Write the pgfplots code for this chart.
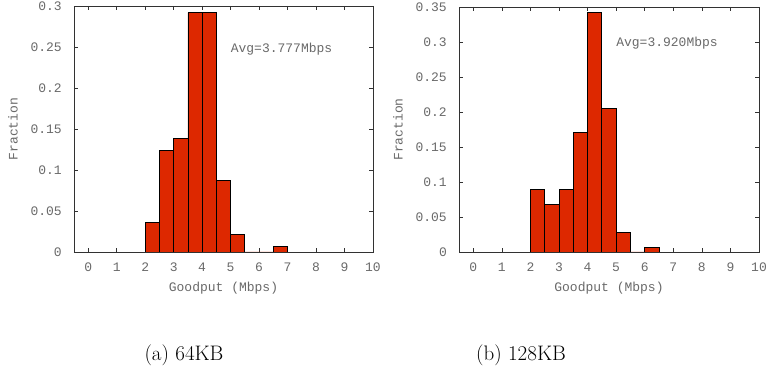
\documentclass[border=0pt]{standalone}
\usepackage{fontspec}
\setmonofont{Liberation Mono}
\usepackage{pgfplots}
\pgfplotsset{compat=1.18}
\definecolor{barred}{RGB}{221,40,0}
\definecolor{txtgray}{RGB}{105,105,105}
\definecolor{axgray}{RGB}{50,50,50}
\newcommand{\gpfont}{\ttfamily\fontsize{13}{15}\selectfont}
\pgfplotsset{gp/.style={
  scale only axis, anchor=south west,
  xmin=-0.5, xmax=10, ymin=0,
  xtick={0,1,2,3,4,5,6,7,8,9,10},
  xticklabels={0,1,2,3,4,5,6,7,8,9,10},
  tick align=inside, major tick length=4pt,
  tick style={axgray, line width=0.6pt},
  axis line style={axgray, line width=0.8pt},
  ticklabel style={font=\gpfont, text=txtgray},
  xticklabel style={anchor=center, yshift=-15pt, inner sep=0pt},
  yticklabel style={anchor=east, xshift=-12pt, inner sep=0pt},
  every axis x label/.style={at={(axis description cs:0.5,0)}, yshift=-36pt, anchor=center, font=\gpfont, text=txtgray},
  every axis y label/.style={at={(axis description cs:0,0.5)}, xshift=-61pt, rotate=90, anchor=center, font=\gpfont, text=txtgray},
  xlabel={Goodput (Mbps)}, ylabel={Fraction},
}}
\begin{document}
\begin{tikzpicture}
\path[use as bounding box] (0,0) rectangle (769pt,379pt);
\begin{axis}[gp, at={(74pt,127pt)}, width=299pt, height=246pt,
  ymax=0.3, ytick={0,0.05,0.1,0.15,0.2,0.25,0.3},
  yticklabels={0,0.05,0.1,0.15,0.2,0.25,0.3}]
\addplot[ybar interval, fill=barred, draw=black, line width=0.8pt] coordinates {
 (2,0.0365) (2.5,0.1241) (3,0.1387) (3.5,0.2920) (4,0.2920) (4.5,0.0876)
 (5,0.0219) (5.5,0) (6,0) (6.5,0.0073) (7,0)};
\node[anchor=west, font=\gpfont, text=txtgray, inner sep=0pt] at (axis cs:5.0,0.2476) {Avg=3.777Mbps};
\end{axis}
\begin{axis}[gp, at={(459pt,127pt)}, width=300pt, height=245pt,
  ymax=0.35, ytick={0,0.05,0.1,0.15,0.2,0.25,0.3,0.35},
  yticklabels={0,0.05,0.1,0.15,0.2,0.25,0.3,0.35}]
\addplot[ybar interval, fill=barred, draw=black, line width=0.8pt] coordinates {
 (2,0.0890) (2.5,0.0685) (3,0.0890) (3.5,0.1712) (4,0.3425) (4.5,0.2055)
 (5,0.0274) (5.5,0) (6,0.0068) (6.5,0)};
\node[anchor=west, font=\gpfont, text=txtgray, inner sep=0pt] at (axis cs:5.0,0.2986) {Avg=3.920Mbps};
\end{axis}
\node[font=\fontsize{21}{25}\selectfont] at (184pt,24pt) {(a) 64KB};
\node[font=\fontsize{21}{25}\selectfont] at (521pt,24pt) {(b) 128KB};
\end{tikzpicture}
\end{document}
